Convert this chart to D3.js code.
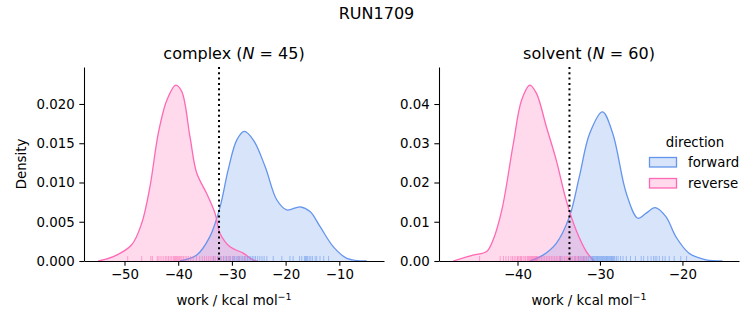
<!DOCTYPE html>
<html>
<head>
<meta charset="utf-8">
<script src="https://cdn.jsdelivr.net/npm/d3@7"></script>
<style>
  body { margin: 0; background: #fff; }
  svg { font-family: "DejaVu Sans", sans-serif; }
</style>
</head>
<body>
<script>
// Density curves: [work, density]
const complexForwardKde = [
  [-39.7, 0], [-36.55, 0.00076], [-34.1, 0.0031], [-32.2, 0.0069], [-30.7, 0.0116],
  [-29.1, 0.0154], [-27.7, 0.0165], [-26.0, 0.0154], [-23.8, 0.0120], [-21.65, 0.0078],
  [-19.8, 0.0065], [-17.3, 0.0069], [-15.45, 0.0063], [-13.6, 0.0044], [-11.1, 0.0018],
  [-8.6, 0.00034], [-4.9, 0]
];
const complexReverseKde = [
  [-54.9, 0], [-52.1, 0.00055], [-48.7, 0.00204], [-46.8, 0.0048], [-45.25, 0.0095],
  [-43.7, 0.0163], [-42.1, 0.0205], [-40.47, 0.0224], [-39.35, 0.0216], [-37.8, 0.0158],
  [-36.55, 0.0112], [-34.7, 0.0086], [-33.15, 0.0061], [-32.2, 0.0035], [-30.35, 0.0018],
  [-27.9, 0.001], [-26.0, 0.0001], [-25.2, 0]
];
const solventForwardKde = [
  [-38.5, 0], [-36.9, 0.0015], [-35.3, 0.0045], [-33.7, 0.0113], [-32.5, 0.0215],
  [-31.25, 0.0325], [-29.7, 0.038], [-28.45, 0.0325], [-26.8, 0.0172], [-25.4, 0.0109],
  [-24.4, 0.0122], [-23.3, 0.0136], [-22.0, 0.0113], [-20.8, 0.0062], [-19.2, 0.002],
  [-17.15, 0.0003], [-15.15, 0]
];
const solventReverseKde = [
  [-47.8, 0], [-45.4, 0.0015], [-43.75, 0.0024], [-42.95, 0.0054], [-41.9, 0.013],
  [-40.5, 0.030], [-39.5, 0.041], [-38.5, 0.0448], [-37.7, 0.0427], [-36.5, 0.0342],
  [-35.3, 0.0257], [-34.1, 0.0155], [-32.9, 0.0079], [-31.65, 0.0024], [-30.85, 0.0003],
  [-30.7, 0]
];

// Rug values (individual works)
const complexForward = [
  -33.4, -32.6, -32.0, -31.5, -31.1, -30.7, -30.3, -29.9, -29.5, -29.2,
  -28.9, -28.6, -28.3, -28.0, -27.7, -27.4, -27.1, -26.8, -26.5, -26.2,
  -25.9, -25.6, -25.2, -24.8, -24.4, -24.0, -23.5, -22.3, -20.7, -19.2,
  -18.6, -17.4, -17.0, -16.5, -16.3, -16.1, -15.9, -15.6, -15.3, -15.0,
  -14.5, -14.2, -13.6, -12.9, -12.0
];
const complexReverse = [
  -49.4, -46.8, -45.1, -44.8, -43.9, -43.6, -43.2, -42.8, -42.4, -42.1,
  -41.8, -41.5, -41.2, -40.9, -40.7, -40.5, -40.3, -40.1, -39.9, -39.7,
  -39.5, -39.3, -39.0, -38.7, -38.4, -38.1, -37.7, -37.2, -36.6, -36.0,
  -35.5, -35.1, -34.7, -34.3, -33.9, -33.5, -33.1, -32.7, -32.2, -31.6,
  -31.0, -30.4, -29.7, -28.8, -27.6
];
const solventForward = [
  -34.8, -33.6, -33.0, -32.6, -32.3, -32.0, -31.8, -31.6, -31.4, -31.2,
  -31.0, -30.9, -30.8, -30.7, -30.6, -30.5, -30.4, -30.3, -30.2, -30.1,
  -30.0, -29.9, -29.8, -29.7, -29.6, -29.5, -29.4, -29.3, -29.2, -29.1,
  -29.0, -28.9, -28.8, -28.7, -28.6, -28.5, -28.4, -28.3, -28.2, -28.0,
  -27.8, -27.5, -27.2, -26.8, -26.3, -25.7, -25.0, -24.7, -24.2, -23.8,
  -23.5, -23.3, -23.1, -22.8, -22.4, -22.1, -21.6, -21.0, -20.2, -19.5
];
const solventReverse = [
  -44.6, -42.1, -41.7, -41.4, -41.1, -40.8, -40.6, -40.4, -40.2, -40.0,
  -39.9, -39.7, -39.5, -39.3, -39.1, -39.0, -38.8, -38.7, -38.5, -38.4,
  -38.3, -38.1, -38.0, -37.9, -37.7, -37.6, -37.5, -37.3, -37.1, -36.9,
  -36.7, -36.5, -36.3, -36.1, -35.9, -35.7, -35.5, -35.3, -35.1, -34.9,
  -34.7, -34.5, -34.3, -34.1, -33.9, -33.7, -33.5, -33.3, -33.1, -32.9,
  -32.7, -32.5, -32.3, -32.1, -31.9, -31.6, -38.6, -38.2, -37.8, -39.6
];

// Free energy estimates (dotted lines)
const complexDG = -32.4;
const solventDG = -33.7;

const directions = ["forward", "reverse"];
const colors = { forward: "#6495ed", reverse: "#ff69b4" };

const width = 753, height = 325;
const fs = 13.33;

const svg = d3.select("body").append("svg")
  .attr("width", width)
  .attr("height", height);

svg.append("text")
  .attr("x", 376.5).attr("y", 19)
  .attr("text-anchor", "middle")
  .attr("font-size", 16)
  .text("RUN1709");

function panel(opts) {
  const x = d3.scaleLinear().domain(opts.xDomain).range([opts.left, opts.left + 300]);
  const y = d3.scaleLinear().domain(opts.yDomain).range([261, 67]);
  const g = svg.append("g");

  // keep curves inside the axes
  const clipId = "clip-" + opts.name;
  svg.append("clipPath").attr("id", clipId)
    .append("rect").attr("x", opts.left).attr("y", 67).attr("width", 300).attr("height", 194);
  const plot = g.append("g").attr("clip-path", `url(#${clipId})`);

  const curve = d3.curveCatmullRom.alpha(0.5);
  const area = d3.area()
    .x(d => x(d[0])).y0(y(0)).y1(d => Math.min(y(0), y(d[1])))
    .curve(curve);
  const line = d3.line()
    .x(d => x(d[0])).y(d => y(d[1]))
    .curve(curve);

  directions.forEach(dir => {
    plot.append("path")
      .attr("d", area(opts.kde[dir]))
      .attr("fill", colors[dir])
      .attr("fill-opacity", 0.25);
  });
  directions.forEach(dir => {
    plot.append("path")
      .attr("d", line(opts.kde[dir]))
      .attr("fill", "none")
      .attr("stroke", colors[dir])
      .attr("stroke-width", 1.3);
  });

  // rug
  directions.forEach(dir => {
    g.append("g").selectAll("line")
      .data(opts.rug[dir])
      .join("line")
      .attr("x1", d => x(d)).attr("x2", d => x(d))
      .attr("y1", 261).attr("y2", 256)
      .attr("stroke", colors[dir])
      .attr("stroke-opacity", 0.55)
      .attr("stroke-width", 1);
  });

  // dotted line
  g.append("line")
    .attr("x1", x(opts.dg)).attr("x2", x(opts.dg))
    .attr("y1", 67).attr("y2", 261)
    .attr("stroke", "#000")
    .attr("stroke-width", 2)
    .attr("stroke-dasharray", "2,3.3");

  const xAxis = g.append("g")
    .attr("transform", "translate(0,261)")
    .call(d3.axisBottom(x).tickValues(opts.xTicks).tickFormat(d3.format("d"))
      .tickSize(4.67).tickPadding(3.5).tickSizeOuter(0));
  const yAxis = g.append("g")
    .attr("transform", `translate(${opts.left},0)`)
    .call(d3.axisLeft(y).tickValues(opts.yTicks).tickFormat(d3.format(opts.yFmt))
      .tickSize(4.67).tickPadding(4.67).tickSizeOuter(0));
  [xAxis, yAxis].forEach(a => {
    a.attr("font-family", "DejaVu Sans").attr("font-size", fs);
    a.select(".domain").attr("stroke-width", 1.07);
    a.selectAll(".tick line").attr("stroke-width", 1.07);
    a.selectAll(".tick text").attr("fill", "#000");
  });

  // title
  const t = svg.append("text")
    .attr("x", opts.left + 150).attr("y", 59)
    .attr("text-anchor", "middle")
    .attr("font-size", 16);
  t.append("tspan").text(opts.name + " (");
  t.append("tspan").attr("font-style", "italic").text("N");
  t.append("tspan").text(" = " + opts.n + ")");

  // x label
  const xl = svg.append("text")
    .attr("x", opts.left + 150).attr("y", 305)
    .attr("text-anchor", "middle")
    .attr("font-size", fs);
  xl.append("tspan").text("work / kcal mol");
  xl.append("tspan").attr("font-size", 9.5).attr("dy", -5).text("\u22121");
}

panel({
  left: 84, xDomain: [-57.54, -1.68], yDomain: [0, 0.02471],
  xTicks: [-50, -40, -30, -20, -10], yTicks: [0, 0.005, 0.01, 0.015, 0.02], yFmt: ".3f",
  kde: { forward: complexForwardKde, reverse: complexReverseKde },
  rug: { forward: complexForward, reverse: complexReverse },
  dg: complexDG, name: "complex", n: 45
});
panel({
  left: 439, xDomain: [-49.52, -13.14], yDomain: [0, 0.04943],
  xTicks: [-40, -30, -20], yTicks: [0, 0.01, 0.02, 0.03, 0.04], yFmt: ".2f",
  kde: { forward: solventForwardKde, reverse: solventReverseKde },
  rug: { forward: solventForward, reverse: solventReverse },
  dg: solventDG, name: "solvent", n: 60
});

// y label
svg.append("text")
  .attr("transform", "translate(26,164) rotate(-90)")
  .attr("text-anchor", "middle")
  .attr("font-size", fs)
  .text("Density");

// legend
const lg = svg.append("g");
lg.append("text")
  .attr("x", 695).attr("y", 147)
  .attr("text-anchor", "middle")
  .attr("font-size", fs)
  .text("direction");
directions.forEach((dir, i) => {
  const yy = 157.5 + i * 21;
  lg.append("rect")
    .attr("x", 649.5).attr("y", yy)
    .attr("width", 27).attr("height", 9.5)
    .attr("fill", colors[dir]).attr("fill-opacity", 0.25)
    .attr("stroke", colors[dir]).attr("stroke-width", 1.3);
  lg.append("text")
    .attr("x", 688).attr("y", yy + 9)
    .attr("font-size", fs)
    .text(dir);
});
</script>
</body>
</html>
